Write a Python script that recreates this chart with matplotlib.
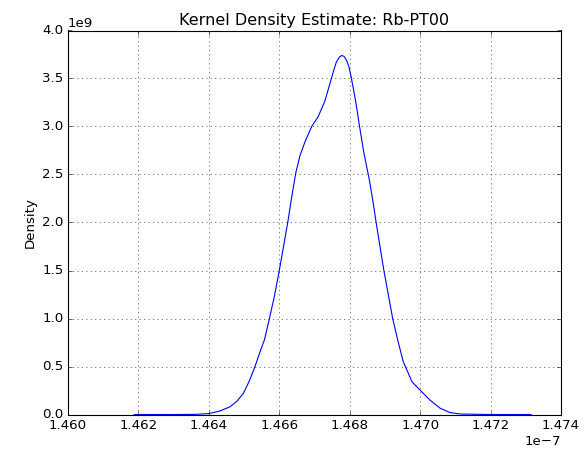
import numpy as np
import matplotlib
matplotlib.use("Agg")
import matplotlib.pyplot as plt

# KDE curve (x in units of 1e-7, density in units of 1e9)
x_vals = [1.46188, 1.4630, 1.4636, 1.46401, 1.4643, 1.46460, 1.46480, 1.46498,
          1.46515, 1.46531, 1.46545, 1.46558, 1.46572, 1.46586, 1.46600, 1.46612,
          1.46624, 1.46635, 1.46647, 1.46659, 1.46673, 1.46692, 1.46710, 1.46729,
          1.46748, 1.46755, 1.46762, 1.46770, 1.46777, 1.46784, 1.46791, 1.46798,
          1.46805, 1.46817, 1.46828, 1.46840, 1.46856, 1.46866, 1.46875, 1.46897,
          1.46922, 1.46936, 1.46952, 1.46977, 1.47001, 1.47028, 1.47057, 1.47085,
          1.47114, 1.4720, 1.47315]
density = [0.0, 0.0, 0.001, 0.01, 0.035, 0.08, 0.14, 0.22,
           0.35, 0.50, 0.65, 0.78, 1.00, 1.23, 1.50, 1.75,
           2.00, 2.26, 2.52, 2.70, 2.84, 3.00, 3.10, 3.26,
           3.50, 3.59, 3.67, 3.72, 3.74, 3.73, 3.69, 3.62,
           3.50, 3.26, 3.00, 2.73, 2.44, 2.22, 2.00, 1.50,
           1.00, 0.78, 0.55, 0.34, 0.25, 0.15, 0.065, 0.02,
           0.005, 0.0, 0.0]

x = np.array(x_vals) * 1e-7
y = np.array(density) * 1e9

plt.style.use("classic")
fig = plt.figure(figsize=(585 / 80, 451 / 80), dpi=80, facecolor="white")
ax = fig.add_axes([68 / 585, 1 - 414.5 / 451, (561 - 68) / 585, (414.5 - 30.5) / 451])

ax.plot(x, y, color="b", lw=1)

ax.set_xlim(1.460e-7, 1.474e-7)
ax.set_ylim(0, 4e9)
ax.set_xticks(np.arange(1.460, 1.4741, 0.002) * 1e-7)
ax.ticklabel_format(axis="both", style="sci", scilimits=(0, 0), useOffset=False)
ax.grid(True)

ax.set_title("Kernel Density Estimate: Rb-PT00")
ax.set_ylabel("Density")

fig.savefig("out.png", dpi=80, facecolor="white")
